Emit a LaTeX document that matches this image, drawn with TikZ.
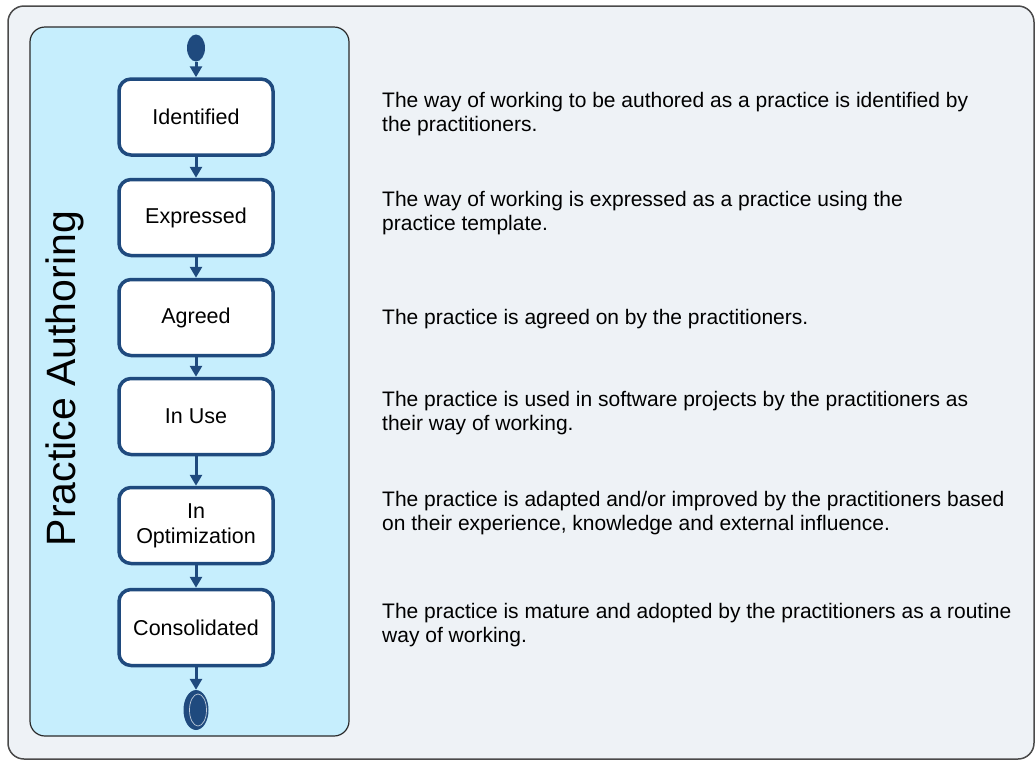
\documentclass[tikz,border=0pt]{standalone}
\usepackage{fontspec}
\setmainfont{Liberation Sans}
\usetikzlibrary{arrows.meta,shapes.geometric}
\definecolor{navy}{HTML}{1F4A7E}
\definecolor{panelfill}{HTML}{C6EEFD}
\definecolor{outerfill}{HTML}{EEF2F6}
\definecolor{outerline}{HTML}{4A4A4A}
\definecolor{panelline}{HTML}{2A2A2A}
\begin{document}
\begin{tikzpicture}[x=1pt,y=-1pt,
  statebox/.style={draw=navy, line width=3.5pt, rounded corners=12pt, fill=white,
    minimum width=154pt, minimum height=76pt, inner sep=0pt, align=center,
    font=\fontsize{21.5}{25}\selectfont},
  flow/.style={draw=navy, line width=3pt, -{Triangle[width=12pt,length=11pt]}},
  desc/.style={anchor=base west, align=left, inner sep=0pt,
    font=\fontsize{21}{24}\selectfont}]
\useasboundingbox (0,0) rectangle (1036,761);
% outer frame
\draw[fill=outerfill, draw=outerline, line width=1.5pt, rounded corners=16pt] (8,6) rectangle (1034,759);
% panel
\draw[fill=panelfill, draw=panelline, line width=1.2pt, rounded corners=15pt] (30,27) rectangle (349,736);
% title
\node[rotate=90, anchor=base, inner sep=0pt, font=\fontsize{41}{41}\selectfont] (title) at (75,378.5) {Practice Authoring};
% start / end
\node[ellipse, fill=navy, minimum width=18pt, minimum height=27pt, inner sep=0pt] (start) at (196,48) {};
\node[statebox] (s1) at (196,117) {Identified};
\node[statebox] (s2) at (196,217.5) {Expressed};
\node[statebox] (s3) at (196,317.5) {Agreed};
\node[statebox] (s4) at (196,416.5) {In Use};
\node[statebox] (s5) at (196,525.5) {In\\Optimization};
\node[statebox] (s6) at (196,627.5) {Consolidated};
\node[ellipse, fill=navy, minimum width=25pt, minimum height=40pt, inner sep=0pt] (end) at (196,710) {};
\node[ellipse, draw=white!70!navy, line width=0.7pt, minimum width=17pt, minimum height=32pt, inner sep=0pt] (endring) at (198,710) {};
\draw[flow] (start) -- (s1);
\draw[flow] (s1) -- (s2);
\draw[flow] (s2) -- (s3);
\draw[flow] (s3) -- (s4);
\draw[flow] (s4) -- (s5);
\draw[flow] (s5) -- (s6);
\draw[flow] (s6) -- (end);
% descriptions (anchor = baseline of last line)
\node[desc] (d1) at (382,131) {The way of working to be authored as a practice is identified by\\the practitioners.};
\node[desc] (d2) at (382,230) {The way of working is expressed as a practice using the\\practice template.};
\node[desc] (d3) at (382,324) {The practice is agreed on by the practitioners.};
\node[desc] (d4) at (382,430) {The practice is used in software projects by the practitioners as\\their way of working.};
\node[desc] (d5) at (382,530) {The practice is adapted and/or improved by the practitioners based\\on their experience, knowledge and external influence.};
\node[desc] (d6) at (382,642) {The practice is mature and adopted by the practitioners as a routine\\way of working.};
\end{tikzpicture}
\end{document}
